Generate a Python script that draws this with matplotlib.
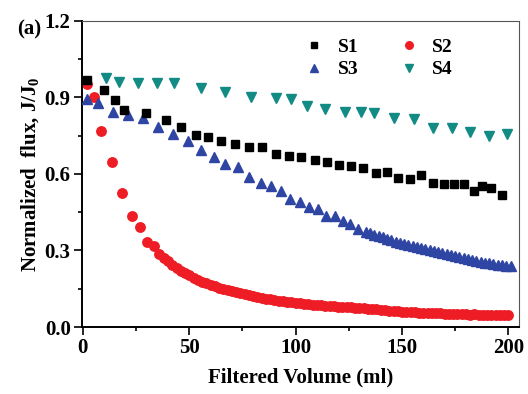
import matplotlib
matplotlib.use("Agg")
import matplotlib.pyplot as plt
from matplotlib.ticker import MultipleLocator

plt.rcParams['font.family'] = 'Liberation Serif'
plt.rcParams['font.weight'] = 'bold'
plt.rcParams['mathtext.default'] = 'regular'

# S1 - black squares
s1_x = [2, 10, 15, 19.5, 29.6, 39, 46, 53, 58.6, 65, 71.5, 78, 84.4, 91, 97, 102.7,
        109, 114.8, 120.4, 126.2, 131.7, 138, 143, 148, 153.6, 159, 164.5, 169.5,
        174.4, 179, 183.7, 187.5, 192, 197]
s1_y = [0.97, 0.93, 0.89, 0.85, 0.838, 0.81, 0.785, 0.753, 0.744, 0.728, 0.718, 0.707,
        0.705, 0.678, 0.672, 0.665, 0.655, 0.648, 0.635, 0.631, 0.625, 0.603, 0.609,
        0.583, 0.579, 0.596, 0.566, 0.561, 0.561, 0.561, 0.534, 0.553, 0.544, 0.518]

# S2 - red circles
s2_x = [2, 5.4, 8.6, 13.9, 18.6, 23, 26.9, 30, 33.6,
        36, 38, 40, 42, 44, 46, 48, 50, 52, 54, 56, 58, 60, 62, 64, 66, 68, 70,
        72, 74, 76, 78, 80, 82, 84, 86, 88, 90, 92, 94, 96, 98, 100, 102, 104,
        106, 108, 110, 112, 114, 116, 118, 120, 122, 124, 126, 128, 130, 132,
        134, 136, 138, 140, 142, 144, 146, 148, 150, 152, 154, 156, 158, 160,
        162, 164, 166, 168, 170, 172, 174, 176, 178, 180, 182, 184, 186, 188,
        190, 192, 194, 196, 198, 200]
s2_y = [0.953, 0.90, 0.77, 0.648, 0.524, 0.435, 0.393, 0.335, 0.318,
        0.285, 0.270, 0.257, 0.244, 0.232, 0.221, 0.211, 0.202, 0.193, 0.185,
        0.178, 0.172, 0.166, 0.160, 0.154, 0.149, 0.144, 0.140, 0.136, 0.132,
        0.128, 0.124, 0.120, 0.117, 0.114, 0.111, 0.108, 0.106, 0.103, 0.101,
        0.099, 0.097, 0.095, 0.093, 0.091, 0.090, 0.088, 0.087, 0.085, 0.084,
        0.083, 0.082, 0.080, 0.079, 0.078, 0.077, 0.076, 0.075, 0.073, 0.072,
        0.070, 0.069, 0.067, 0.066, 0.064, 0.063, 0.061, 0.060, 0.059, 0.058,
        0.057, 0.056, 0.055, 0.055, 0.054, 0.053, 0.053, 0.052, 0.052, 0.051,
        0.051, 0.050, 0.050, 0.049, 0.050, 0.049, 0.048, 0.049, 0.048, 0.047,
        0.048, 0.047, 0.046]

# S3 - blue up triangles
s3_x = [2, 7, 14, 21, 28.4, 35.5, 42.5, 49.3, 55.5, 61.7, 66.6, 73, 78.2, 83.5,
        88.2, 92.9, 97.3, 101.9, 106.3, 110.5, 114.1, 118.4, 122.3, 125.7, 129.3,
        133, 135, 137, 139, 141, 143, 145, 147, 149, 151, 153, 155, 157, 159,
        161, 163, 165, 167, 169, 171, 173, 175, 177, 179, 181, 183, 185, 187,
        189, 191, 193, 195, 197, 199, 201]
s3_y = [0.893, 0.88, 0.844, 0.831, 0.818, 0.785, 0.757, 0.729, 0.694, 0.665, 0.64,
        0.626, 0.587, 0.566, 0.553, 0.535, 0.501, 0.491, 0.469, 0.462, 0.435, 0.435,
        0.417, 0.404, 0.383, 0.372, 0.368, 0.362, 0.356, 0.351, 0.346, 0.340, 0.335,
        0.330, 0.325, 0.321, 0.317, 0.313, 0.309, 0.305, 0.301, 0.297, 0.293,
        0.289, 0.285, 0.281, 0.277, 0.273, 0.269, 0.265, 0.261, 0.258, 0.255,
        0.252, 0.249, 0.246, 0.244, 0.242, 0.240, 0.238]

# S4 - teal down triangles
s4_x = [11, 17, 26, 35, 43, 55.5, 67, 79, 91, 98, 105.5, 114, 123, 130.5, 137,
        146, 155.5, 164.5, 173.5, 182, 191, 199.5]
s4_y = [0.975, 0.962, 0.958, 0.956, 0.956, 0.936, 0.92, 0.90, 0.897, 0.893, 0.867,
        0.854, 0.844, 0.844, 0.838, 0.818, 0.815, 0.779, 0.779, 0.766, 0.749, 0.757]

fig = plt.figure(figsize=(5.28, 3.94), dpi=100)
ax = fig.add_axes([0.155, 0.170, 0.828, 0.777])

p2, = ax.plot(s2_x, s2_y, 'o', color='#ee1c24', ms=6.8, label='S2', zorder=2)
p3, = ax.plot(s3_x, s3_y, '^', color='#2f45a3', ms=7.5, label='S3', zorder=3)
p1, = ax.plot(s1_x, s1_y, 's', color='black', ms=6, label='S1', zorder=4)
p4, = ax.plot(s4_x, s4_y, 'v', color='#138b85', ms=7.5, label='S4', zorder=4)

ax.legend([p1, p3, p2, p4], ['S1', 'S3', 'S2', 'S4'],
          ncol=2, loc='upper left', frameon=False, fontsize=14,
          bbox_to_anchor=(0.465, 1.0), handlelength=1.2, handletextpad=0.6,
          columnspacing=2.0, labelspacing=0.25, markerscale=0.8)

ax.set_xlim(-0.5, 205)
ax.set_ylim(0, 1.2)
ax.xaxis.set_major_locator(MultipleLocator(50))
ax.xaxis.set_minor_locator(MultipleLocator(25))
ax.yaxis.set_major_locator(MultipleLocator(0.3))
ax.yaxis.set_minor_locator(MultipleLocator(0.15))
ax.yaxis.set_major_formatter(plt.FuncFormatter(lambda v, p: f"{v:.1f}"))
ax.tick_params(which='both', direction='out', top=False, right=False, labelsize=15,
               width=1.2, pad=2)
ax.tick_params(which='major', length=6)
ax.tick_params(which='minor', length=3)
for side in ['left', 'bottom']:
    ax.spines[side].set_linewidth(1.4)
for side in ['top', 'right']:
    ax.spines[side].set_linewidth(0.8)
    ax.spines[side].set_color('#555555')

ax.set_xlabel('Filtered Volume (ml)', fontsize=15, fontweight='bold', labelpad=7)
ax.set_ylabel('Normalized  flux, J/J$_0$', fontsize=15, fontweight='bold', labelpad=3)
fig.text(0.032, 0.912, '(a)', fontsize=15, fontweight='bold')

fig.savefig('out.png', dpi=100)
